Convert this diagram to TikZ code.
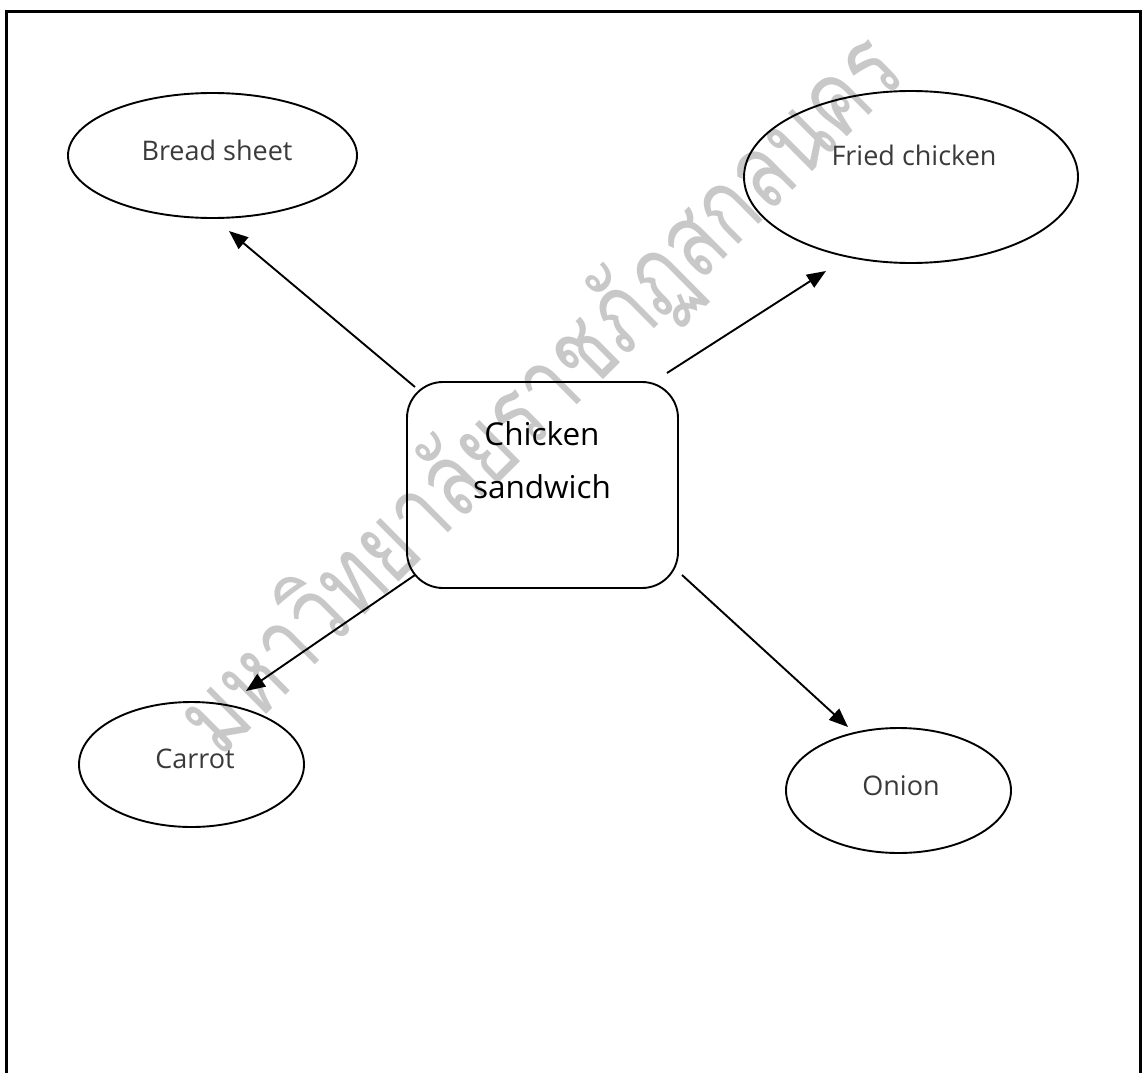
\documentclass[tikz,border=0pt]{standalone}
\usepackage{fontspec}
\setmainfont{Open Sans}
\newfontfamily\thaifont[Script=Thai]{Loma}
\usetikzlibrary{shapes.geometric,arrows.meta}
\definecolor{wmgray}{HTML}{C8C8C8}
\definecolor{lblgray}{HTML}{3A3A3A}
\tikzset{
  oval/.style={draw=black, line width=1.9pt, ellipse, inner sep=0pt},
  lbl/.style={anchor=base, inner sep=0pt, text=lblgray, font=\fontsize{27}{32}\selectfont},
  mainlbl/.style={anchor=base, inner sep=0pt, text=black, font=\fontsize{31.5}{36}\selectfont},
  conn/.style={draw=black, line width=1.9pt, -{Triangle[length=19pt,width=15pt]}},
  frame/.style={draw=black, line width=2.3pt},
}
\begin{document}
\begin{tikzpicture}[x=1pt,y=-1pt]
\useasboundingbox (0,0) rectangle (1143,1073);
% watermark
\node[rotate=44.8, yscale=1.32, text=wmgray, inner sep=0pt, font=\thaifont\fontsize{79}{90}\selectfont] (wm) at (542,396) {มหาวิทยาลัยราชภัฏสกลนคร};
% frame
\coordinate (fbl) at (6.5,1073);
\coordinate (ftl) at (6.5,11.5);
\coordinate (ftr) at (1140.5,11.5);
\coordinate (fbr) at (1140.5,1073);
\draw[frame] (fbl) -- (ftl) -- (ftr) -- (fbr);
% nodes
\node[oval, minimum width=289pt, minimum height=125pt] (bread) at (212.5,155.5) {};
\node[oval, minimum width=334pt, minimum height=172pt] (fried) at (911,177) {};
\node[oval, minimum width=225pt, minimum height=125pt] (carrot) at (191.5,764.5) {};
\node[oval, minimum width=225pt, minimum height=125pt] (onion) at (898.5,790.5) {};
\node[draw=black, line width=1.9pt, rectangle, rounded corners=36pt, minimum width=271pt, minimum height=206pt, inner sep=0pt] (center) at (542.5,485) {};
% labels
\node[lbl] (breadt) at (217,160) {Bread sheet};
\node[lbl] (friedt) at (914,165) {Fried chicken};
\node[lbl] (carrott) at (195,768) {Carrot};
\node[lbl] (oniont) at (901,795) {Onion};
\node[mainlbl] (chick) at (542,445) {Chicken};
\node[mainlbl] (sandw) at (542,498) {sandwich};
% connector ends
\coordinate (s1) at (415,387); \coordinate (t1) at (229,231);
\coordinate (s2) at (667,373); \coordinate (t2) at (826,271);
\coordinate (s3) at (415,575); \coordinate (t3) at (246,691);
\coordinate (s4) at (682,575); \coordinate (t4) at (848,727);
\draw[conn] (s1) -- (t1);
\draw[conn] (s2) -- (t2);
\draw[conn] (s3) -- (t3);
\draw[conn] (s4) -- (t4);
\end{tikzpicture}
\end{document}
